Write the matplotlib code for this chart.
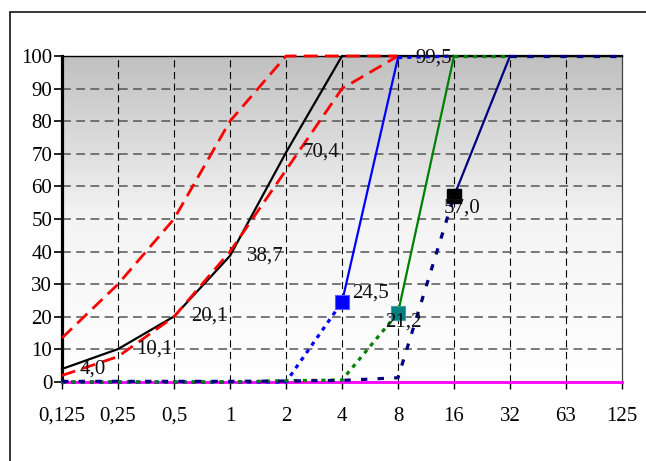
import numpy as np
import matplotlib
matplotlib.use('Agg')
import matplotlib.pyplot as plt
from matplotlib.colors import LinearSegmentedColormap
from matplotlib.patches import Rectangle

# === Data ===
categories = ['0,125', '0,25', '0,5', '1', '2', '4', '8', '16', '32', '63', '125']

black_vals = [4.0, 10.1, 20.1, 38.7, 70.4, 100, 100, 100, 100, 100, 100]
red_a_vals = [13.5, 30.0, 50.0, 80.0, 100, 100, 100]
red_b_vals = [2.0, 7.8, 20.0, 40.0, 65.0, 90.0, 100]
blue_vals = [0, 0, 0, 0, 0, 24.5, 99.5, 100]
green_vals = [0, 0, 0, 0, 0.4, 0.6, 21.2, 100, 100]
navy_vals = [0.2, 0.2, 0.2, 0.2, 0.3, 0.5, 1.3, 57.0, 100, 100, 100]
magenta_vals = [0] * 11

# points of the black curve that carry a value label
black_labels = [0, 1, 2, 3, 4]

plt.rcParams['font.family'] = ['Liberation Serif', 'DejaVu Serif']
plt.rcParams['font.size'] = 15

fig = plt.figure(figsize=(6.46, 4.61), dpi=100)
ax = fig.add_axes([62 / 646, 1 - 382 / 461, 560 / 646, 326 / 461])

# outer frame, cut off on the right and bottom
fig.add_artist(Rectangle((10 / 646, -0.2), 1.2, 1 - 12 / 461 + 0.2,
                         transform=fig.transFigure, fill=False,
                         edgecolor='black', linewidth=1.1))

# === Gradient background ===
grad = np.linspace(0, 1, 256).reshape(-1, 1)
cmap = LinearSegmentedColormap.from_list('bg', ['#ffffff', '#f4f4f4', '#c0c0c0'])
ax.imshow(grad, extent=[0, 10, 0, 100], origin='lower', aspect='auto',
          cmap=cmap, zorder=0)

# === Grid ===
for xi in range(1, 10):
    ax.axvline(xi, color='black', linewidth=0.8, linestyle=(0, (6.5, 4.0)), zorder=1)
for yv in range(10, 100, 10):
    ax.axhline(yv, color='#555555', linewidth=1.1, linestyle=(0, (5.8, 3.5)), zorder=1)

x = np.arange(len(categories))


def seg(vals, i0, i1, **kw):
    xs = x[i0:i1 + 1]
    ys = vals[i0:i1 + 1]
    ax.plot(xs, ys, clip_on=False, **kw)


dots = dict(linewidth=2.3, linestyle=(0, (1.3, 1.6)), dash_capstyle='butt')
navy_dots = dict(linewidth=2.3, linestyle=(0, (2.0, 3.2)), dash_capstyle='butt')
red_dash = dict(color='red', linewidth=2.0, linestyle=(0, (5.0, 2.6)),
                clip_on=False, zorder=5)

# === Series ===
ax.plot(x, magenta_vals, color='#ff00ff', linewidth=2.0, clip_on=False, zorder=3)
ax.plot(x, black_vals, color='black', linewidth=1.6, clip_on=False, zorder=4)
ax.plot(x[:len(red_a_vals)], red_a_vals, **red_dash)
ax.plot(x[:len(red_b_vals)], red_b_vals, **red_dash)

seg(blue_vals, 0, 5, color='#0000ff', zorder=6, **dots)
seg(blue_vals, 5, 6, color='#0000ff', linewidth=1.6, zorder=6)
seg(blue_vals, 6, 7, color='#0000ff', zorder=6, **dots)

seg(green_vals, 0, 6, color='#008000', zorder=6, **dots)
seg(green_vals, 6, 7, color='#008000', linewidth=1.6, zorder=6)
seg(green_vals, 7, 8, color='#008000', zorder=6, **dots)

seg(navy_vals, 0, 7, color='#000080', zorder=7, **navy_dots)
seg(navy_vals, 7, 8, color='#000080', linewidth=1.6, zorder=7)
seg(navy_vals, 8, 10, color='#000080', zorder=7, **navy_dots)

# square markers
ax.plot(5, blue_vals[5], marker='s', markersize=10.5, color='#0000ff',
        markeredgecolor='#5a5aff', markeredgewidth=0.8, zorder=8)
ax.plot(6, green_vals[6], marker='s', markersize=10.5, color='#008080',
        markeredgecolor='#40a0a0', markeredgewidth=0.8, zorder=8)
ax.plot(7, navy_vals[7], marker='s', markersize=10.5, color='black', zorder=8)


def fmt(v):
    return f'{v:.1f}'.replace('.', ',')


# === Data labels ===
lab = dict(textcoords='offset pixels', va='center', ha='left', zorder=9,
           color='#111111')
for i in black_labels:
    off = 18 if i < 2 else 17
    ax.annotate(fmt(black_vals[i]), (i, black_vals[i]), xytext=(off, 0), **lab)
ax.annotate(fmt(blue_vals[6]), (6, blue_vals[6]), xytext=(17, 0), **lab)
ax.annotate(fmt(blue_vals[5]), (5, blue_vals[5]), xytext=(10, 9), **lab)
ax.annotate(fmt(green_vals[6]), (6, green_vals[6]), xytext=(-13, -9), **lab)
ax.annotate(fmt(navy_vals[7]), (7, navy_vals[7]), xytext=(-10, -12), **lab)

# === Axes ===
ax.set_xlim(0, 10)
ax.set_ylim(0, 100)
ax.set_xticks(x)
ax.set_xticklabels(categories)
ax.set_yticks(range(0, 101, 10))
ax.tick_params(axis='x', length=5, width=1.0, pad=13, direction='out')
ax.tick_params(axis='y', length=6, width=1.2, pad=1, direction='out')

ax.spines['left'].set_linewidth(2.3)
ax.spines['top'].set_linewidth(1.0)
ax.spines['right'].set_linewidth(0.9)
ax.spines['right'].set_color('#444444')
ax.spines['bottom'].set_linewidth(1.0)

fig.savefig('out.png', dpi=100)
